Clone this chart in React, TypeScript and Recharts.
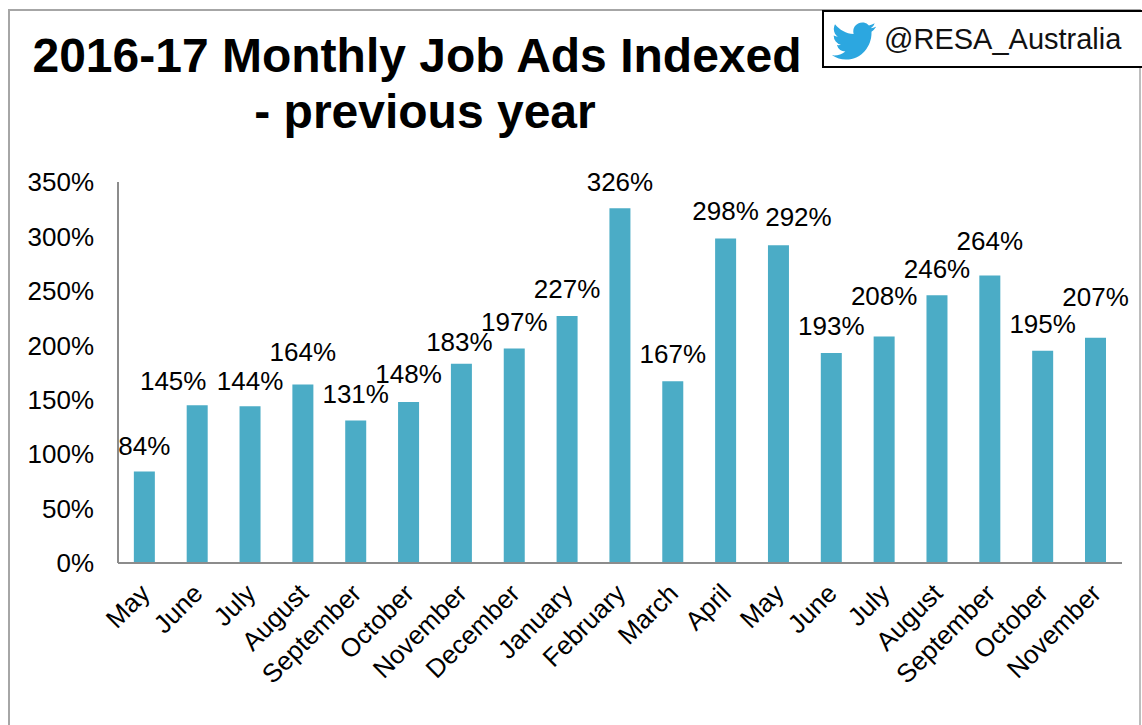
import { BarChart, Bar, XAxis, YAxis, LabelList } from 'recharts';

const months = ['May', 'June', 'July', 'August', 'September', 'October', 'November', 'December', 'January', 'February', 'March', 'April', 'May', 'June', 'July', 'August', 'September', 'October', 'November'];
const indexed = [84, 145, 144, 164, 131, 148, 183, 197, 227, 326, 167, 298, 292, 193, 208, 246, 264, 195, 207];
const yTicks = [0, 50, 100, 150, 200, 250, 300, 350];

// labels that were dragged by hand in the original, by bar index
const labelNudge: Record<number, { dx: number; dy: number }> = {
  0: { dx: 0, dy: 1 },
  1: { dx: -24, dy: 3 },
  2: { dx: 0, dy: 2 },
  3: { dx: 0, dy: -5 },
  4: { dx: 0, dy: 1 },
  5: { dx: 0, dy: -1 },
  6: { dx: -2, dy: 5 },
  9: { dx: 0, dy: 1 },
  11: { dx: 0, dy: -1 },
  12: { dx: 20, dy: -1 },
  14: { dx: 0, dy: -14 },
  15: { dx: 0, dy: 1 },
  16: { dx: 0, dy: -8 },
  18: { dx: 0, dy: -14 },
};

const data = months.map((month, i) => ({ key: i, month, value: indexed[i] }));

const font = '"Liberation Sans", Arial, sans-serif';

const MonthTick = ({ x, y, payload }: any) => (
  <text
    x={x + 7}
    y={y + 24}
    textAnchor="end"
    fontSize={26}
    fontFamily={font}
    fill="#000"
    transform={`rotate(-45 ${x + 7} ${y + 24})`}
  >
    {months[payload.value]}
  </text>
);

const BarLabel = ({ x, y, width, value, index }: any) => {
  const nudge = labelNudge[index] || { dx: 0, dy: 0 };
  return (
    <text
      x={x + width / 2 + nudge.dx}
      y={y - 18 + nudge.dy}
      textAnchor="middle"
      fontSize={26}
      fontFamily={font}
      fill="#000"
    >
      {value}%
    </text>
  );
};

const App = () => (
  <div style={{ position: 'fixed', left: 0, top: 0, width: 1142, height: 725, background: '#fff', overflow: 'hidden', fontFamily: font }}>
    <div style={{ position: 'absolute', left: 8, top: 9, width: 1133, height: 730, borderLeft: '2px solid #a6a6a6', borderTop: '2px solid #a6a6a6', borderRight: '2px solid #bdbdbd', boxSizing: 'border-box' }} />
    <div style={{ position: 'absolute', left: 0, top: 28, width: 834, textAlign: 'center', fontSize: 48, fontWeight: 700, lineHeight: '56px', color: '#000' }}>
      2016-17 Monthly Job Ads Indexed
      <br />
      <span style={{ marginLeft: 16 }}>- previous year</span>
    </div>
    <div style={{ position: 'absolute', left: 822, top: 10, width: 324, height: 58, border: '2px solid #000', boxSizing: 'border-box', background: '#fff' }}>
      <svg style={{ position: 'absolute', left: 8, top: 9 }} width={44} height={40} viewBox="0 1.5 24 21" preserveAspectRatio="none">
        <path fill="#2ca7e0" d="M23.953 4.57a10 10 0 01-2.825.775 4.958 4.958 0 002.163-2.723c-.951.555-2.005.959-3.127 1.184a4.92 4.92 0 00-8.384 4.482C7.69 8.095 4.067 6.13 1.64 3.162a4.822 4.822 0 00-.666 2.475c0 1.71.87 3.213 2.188 4.096a4.904 4.904 0 01-2.228-.616v.06a4.923 4.923 0 003.946 4.827 4.996 4.996 0 01-2.212.085 4.936 4.936 0 004.604 3.417 9.867 9.867 0 01-6.102 2.105c-.39 0-.779-.023-1.17-.067a13.995 13.995 0 007.557 2.209c9.053 0 13.998-7.496 13.998-13.985 0-.21 0-.42-.015-.63A9.935 9.935 0 0024 4.59z" />
      </svg>
      <span style={{ position: 'absolute', left: 60, top: 11, fontSize: 29, lineHeight: '32px', color: '#111', whiteSpace: 'nowrap' }}>@RESA_Australia</span>
    </div>
    <div style={{ position: 'absolute', left: 0, top: 0 }}>
      <BarChart width={1142} height={725} data={data} margin={{ top: 182, right: 20, left: 0, bottom: 0 }} barCategoryGap="30%">
        <XAxis
          dataKey="key"
          interval={0}
          height={162}
          tickLine={false}
          tick={<MonthTick />}
          axisLine={{ stroke: '#8c8c8c', strokeWidth: 2 }}
        />
        <YAxis
          width={118}
          domain={[0, 350]}
          ticks={yTicks}
          tickFormatter={(v) => `${v}%`}
          tickLine={false}
          tickMargin={18}
          axisLine={{ stroke: '#8c8c8c', strokeWidth: 2 }}
          tick={{ fontSize: 26, fill: '#000', fontFamily: font }}
        />
        <Bar dataKey="value" fill="#4bacc6" isAnimationActive={false}>
          <LabelList dataKey="value" content={<BarLabel />} />
        </Bar>
      </BarChart>
    </div>
  </div>
);

export default App;
